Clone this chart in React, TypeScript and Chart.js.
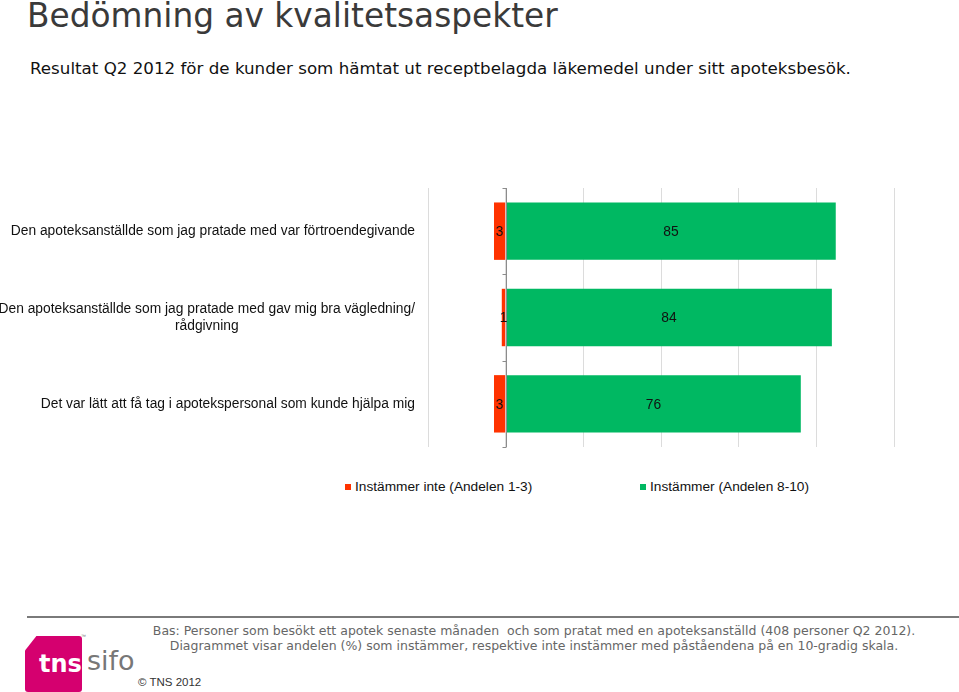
import React, { useEffect, useRef } from "react";
import { Chart, registerables } from "chart.js";

Chart.register(...registerables);

// ---- data ----
const categories: string[][] = [
  ["Den apoteksanställde som jag pratade med var förtroendegivande"],
  ["Den apoteksanställde som jag pratade med gav mig bra vägledning/", "rådgivning"],
  ["Det var lätt att få tag i apotekspersonal som kunde hjälpa mig"],
];
const disagreeValues = [3, 1, 3];
const agreeValues = [85, 84, 76];
const seriesNames = ["Instämmer inte (Andelen 1-3)", "Instämmer (Andelen 8-10)"];
const seriesColors = ["#FF3300", "#00B862"];
const xTickValues = [-20, 0, 20, 40, 60, 80, 100];

const titleText = "Bedömning av kvalitetsaspekter";
const subtitleText =
  "Resultat Q2 2012 för de kunder som hämtat ut receptbelagda läkemedel under sitt apoteksbesök.";
const footnoteLines = [
  "Bas: Personer som besökt ett apotek senaste månaden  och som pratat med en apoteksanställd (408 personer Q2 2012).",
  "Diagrammet visar andelen (%) som instämmer, respektive inte instämmer med påståendena på en 10-gradig skala.",
];

const LABEL_FONT = '13.8px "Liberation Sans", Arial, sans-serif';

const categoryLabelPlugin = {
  id: "categoryLabels",
  afterDraw(chart: any) {
    const ctx = chart.ctx;
    const yScale = chart.scales.y;
    const right = chart.chartArea.left - 13;
    ctx.save();
    ctx.font = LABEL_FONT;
    ctx.fillStyle = "#111";
    ctx.textAlign = "center";
    ctx.textBaseline = "middle";
    const lineH = 17;
    categories.forEach((lines, i) => {
      const cy = yScale.getPixelForValue(i);
      const w = Math.max(...lines.map((l) => ctx.measureText(l).width));
      const cx = right - w / 2;
      const y0 = cy - ((lines.length - 1) * lineH) / 2;
      lines.forEach((l, j) => ctx.fillText(l, cx, y0 + j * lineH + 0.5));
    });
    ctx.restore();
  },
};

const zeroAxisPlugin = {
  id: "zeroAxis",
  afterDatasetsDraw(chart: any) {
    const ctx = chart.ctx;
    const x0 = Math.round(chart.scales.x.getPixelForValue(0)) + 0.5;
    const yScale = chart.scales.y;
    const { top, bottom } = chart.chartArea;
    ctx.save();
    ctx.strokeStyle = "#8c8c8c";
    ctx.lineWidth = 1;
    ctx.beginPath();
    ctx.moveTo(x0, top);
    ctx.lineTo(x0, bottom);
    for (let i = 0; i <= categories.length; i++) {
      const y = Math.round(yScale.getPixelForValue(i - 0.5)) + 0.5;
      ctx.moveTo(x0 - 4, y);
      ctx.lineTo(x0, y);
    }
    ctx.stroke();
    ctx.restore();
  },
};

const valueLabelPlugin = {
  id: "valueLabels",
  afterDatasetsDraw(chart: any) {
    const ctx = chart.ctx;
    ctx.save();
    ctx.font = LABEL_FONT;
    ctx.fillStyle = "#111";
    ctx.textAlign = "center";
    ctx.textBaseline = "middle";
    chart.data.datasets.forEach((ds: any, di: number) => {
      const meta = chart.getDatasetMeta(di);
      meta.data.forEach((el: any, i: number) => {
        const { x, y, base } = el.getProps(["x", "y", "base"], true);
        ctx.fillText(String(Math.abs(ds.data[i])), (x + base) / 2, y + 1);
      });
    });
    ctx.restore();
  },
};

function ChartCanvas() {
  const ref = useRef<HTMLCanvasElement | null>(null);
  useEffect(() => {
    if (!ref.current) return;
    const chart = new Chart(ref.current, {
      type: "bar",
      data: {
        labels: categories.map((c) => c.join(" ")),
        datasets: [
          {
            label: seriesNames[0],
            data: disagreeValues.map((v) => -v),
            backgroundColor: seriesColors[0],
            barPercentage: 0.665,
            categoryPercentage: 1,
          },
          {
            label: seriesNames[1],
            data: agreeValues,
            backgroundColor: seriesColors[1],
            barPercentage: 0.665,
            categoryPercentage: 1,
          },
        ],
      },
      options: {
        indexAxis: "y",
        animation: false,
        responsive: false,
        layout: { padding: { left: 428, right: 65, top: 38, bottom: 23 } },
        scales: {
          x: {
            type: "linear",
            min: -20,
            max: 100,
            stacked: true,
            afterBuildTicks: (axis: any) => {
              axis.ticks = xTickValues.map((v) => ({ value: v }));
            },
            ticks: { display: false },
            grid: { color: "#dcdcdc", drawTicks: false, lineWidth: 1 },
            border: { display: false },
          },
          y: { stacked: true, display: false },
        },
        plugins: { legend: { display: false }, tooltip: { enabled: false } },
      },
      plugins: [zeroAxisPlugin, valueLabelPlugin, categoryLabelPlugin],
    } as any);
    return () => chart.destroy();
  }, []);
  return (
    <canvas
      ref={ref}
      width={959}
      height={320}
      style={{ position: "absolute", left: 0, top: 150, width: 959, height: 320, display: "block" }}
    />
  );
}

export default function App() {
  const sans = '"DejaVu Sans", Verdana, sans-serif';
  const arial = '"Liberation Sans", Arial, sans-serif';
  return (
    <div
      style={{
        position: "fixed",
        left: 0,
        top: 0,
        width: 959,
        height: 692,
        overflow: "hidden",
        background: "#fff",
      }}
    >
      <div
        style={{
          position: "absolute",
          left: 27,
          top: 0,
          fontFamily: sans,
          fontSize: 32.8,
          lineHeight: 1,
          color: "#3a3a3a",
          whiteSpace: "nowrap",
        }}
      >
        {titleText}
      </div>
      <div
        style={{
          position: "absolute",
          left: 30,
          top: 60,
          fontFamily: sans,
          fontSize: 16.7,
          lineHeight: 1,
          color: "#111",
          whiteSpace: "nowrap",
        }}
      >
        {subtitleText}
      </div>

      <ChartCanvas />

      {/* legend */}
      {seriesNames.map((name, i) => (
        <div
          key={name}
          style={{
            position: "absolute",
            left: i === 0 ? 345 : 640,
            top: 479,
            display: "flex",
            alignItems: "center",
            fontFamily: arial,
            fontSize: 13.7,
            lineHeight: "16px",
            color: "#111",
            whiteSpace: "nowrap",
          }}
        >
          <span
            style={{
              display: "inline-block",
              width: 6,
              height: 6,
              background: seriesColors[i],
              marginRight: 4,
            }}
          />
          <span>{name}</span>
        </div>
      ))}

      {/* footer */}
      <div
        style={{
          position: "absolute",
          left: 27,
          top: 616,
          width: 932,
          height: 2,
          background: "#7a7a7a",
        }}
      />
      <div
        style={{
          position: "absolute",
          left: 100,
          top: 623,
          width: 868,
          textAlign: "center",
          fontFamily: sans,
          fontSize: 12.5,
          lineHeight: "15px",
          color: "#666",
          whiteSpace: "pre",
        }}
      >
        {footnoteLines.map((l) => (
          <div key={l}>{l}</div>
        ))}
      </div>

      {/* logo */}
      <div
        style={{
          position: "absolute",
          left: 25,
          top: 636,
          width: 57,
          height: 56,
          background: "#D5006F",
          clipPath: "polygon(0 26%, 20% 0, 100% 0, 100% 100%, 0 100%)",
          borderRadius: 3,
        }}
      />
      <div
        style={{
          position: "absolute",
          left: 39,
          top: 651,
          fontFamily: sans,
          fontWeight: "bold",
          fontSize: 24,
          lineHeight: "26px",
          color: "#fff",
          whiteSpace: "nowrap",
        }}
      >
        tns
      </div>
      <div
        style={{
          position: "absolute",
          left: 81,
          top: 633,
          fontFamily: arial,
          fontSize: 5,
          color: "#777",
        }}
      >
        ™
      </div>
      <div
        style={{
          position: "absolute",
          left: 87,
          top: 647,
          fontFamily: sans,
          fontSize: 27,
          lineHeight: "28px",
          color: "#777",
          whiteSpace: "nowrap",
        }}
      >
        sifo
      </div>
      <div
        style={{
          position: "absolute",
          left: 138,
          top: 676,
          fontFamily: arial,
          fontSize: 11.5,
          lineHeight: "13px",
          color: "#333",
          whiteSpace: "nowrap",
        }}
      >
        © TNS 2012
      </div>
    </div>
  );
}
